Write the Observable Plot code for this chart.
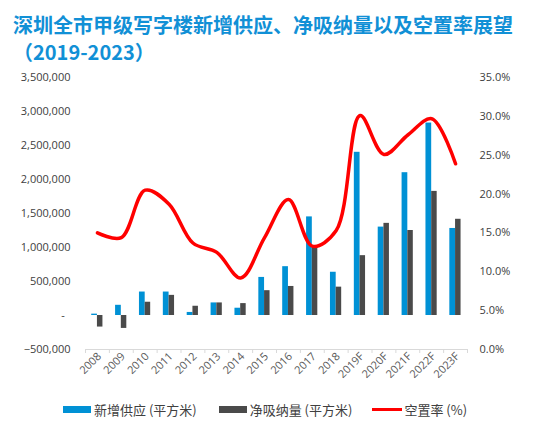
<!DOCTYPE html>
<html>
<head>
<meta charset="utf-8">
<script src="https://cdn.jsdelivr.net/npm/d3@7"></script>
<script src="https://cdn.jsdelivr.net/npm/@observablehq/plot@0.6"></script>
<style>
  body { margin: 0; background: #fff; font-family: "Open Sans", "Noto Sans CJK SC", sans-serif; }
  #title { padding: 11px 0 0 13px; height: 54px; font-family: "Noto Sans CJK SC", sans-serif; font-weight: 700; font-size: 20px; line-height: 27px; color: #1190d6; white-space: nowrap; }
  #legend { display: flex; align-items: center; padding-left: 63px; height: 20px; font-family: "Noto Sans CJK SC", sans-serif; font-size: 13px; color: #404040; }
  #legend .sw { display: inline-block; width: 28px; height: 7px; margin-right: 3px; }
  #legend .ln { display: inline-block; width: 30px; height: 3px; margin-right: 2px; background: #ff0000; }
  #legend .item { display: flex; align-items: center; }
</style>
</head>
<body>
<div id="title">深圳全市甲级写字楼新增供应、净吸纳量以及空置率展望<br>（2019-2023）</div>
<div id="chart"></div>
<div id="legend">
  <span class="item"><span class="sw" style="background:#0091d5"></span>新增供应 (平方米)</span>
  <span class="item" style="margin-left:22px"><span class="sw" style="background:#4a4a4a"></span>净吸纳量 (平方米)</span>
  <span class="item" style="margin-left:20px"><span class="ln"></span>空置率 (%)</span>
</div>
<script>
// 年份
const years = ["2008", "2009", "2010", "2011", "2012", "2013", "2014", "2015", "2016", "2017", "2018", "2019F", "2020F", "2021F", "2022F", "2023F"];
// 新增供应 (平方米)
const supply = [20000, 150000, 345000, 345000, 45000, 185000, 107000, 560000, 718000, 1450000, 636000, 2400000, 1300000, 2100000, 2830000, 1280000];
// 净吸纳量 (平方米)
const absorption = [-170000, -190000, 195000, 296000, 136000, 185000, 175000, 365000, 427000, 1000000, 417000, 880000, 1355000, 1250000, 1825000, 1415000];
// 空置率 (%)
const vacancy = [15.0, 14.4, 20.5, 18.7, 13.7, 12.5, 9.2, 14.4, 19.3, 13.3, 15.3, 30.1, 25.1, 27.6, 29.7, 23.9];

const leftTicks = d3.range(-500000, 3500001, 500000);
const pctTicks = d3.range(0, 36, 5);

// 右轴 0%~35% 对应左轴 -500,000~3,500,000
const toLeft = p => -500000 + p * 4000000 / 35;
const toPct = v => (v + 500000) * 35 / 4000000;

const data = years.map((y, i) => ({
  i, year: y,
  supply: supply[i],
  absorption: absorption[i],
  vacancyLeft: toLeft(vacancy[i])
}));

const fmt = d3.format(",");

const chart = Plot.plot({
  width: 540,
  height: 334,
  marginTop: 12,
  marginBottom: 50,
  marginLeft: 85,
  marginRight: 73,
  style: { fontFamily: "Open Sans, sans-serif", fontSize: "11px", color: "#404040" },
  x: { domain: [0, years.length] },
  y: { domain: [-500000, 3500000] },
  marks: [
    Plot.ruleY([-500000], { stroke: "#d9d9d9" }),
    Plot.axisX({ ticks: d3.range(years.length + 1), tickSize: 4, stroke: "#d9d9d9", tickFormat: () => "", label: null }),
    Plot.axisX({
      ticks: years.map((_, i) => i + 0.5),
      tickSize: 0,
      tickPadding: 5,
      tickRotate: -45,
      dx: 2,
      fill: "#595959",
      tickFormat: d => years[Math.floor(d)],
      label: null
    }),
    Plot.axisY({
      ticks: leftTicks,
      tickSize: 0,
      tickPadding: 15,
      fill: "#404040",
      tickFormat: d => d === 0 ? "-\u00a0\u00a0" : fmt(d),
      label: null
    }),
    Plot.axisY({
      anchor: "right",
      ticks: pctTicks.map(toLeft),
      tickSize: 0,
      tickPadding: 12,
      fill: "#404040",
      tickFormat: d => toPct(d).toFixed(1) + "%",
      label: null
    }),
    Plot.rectY(data, { x1: d => d.i + 0.26, x2: d => d.i + 0.5, y1: 0, y2: "supply", fill: "#0091d5" }),
    Plot.rectY(data, { x1: d => d.i + 0.5, x2: d => d.i + 0.73, y1: 0, y2: "absorption", fill: "#4a4a4a" }),
    Plot.line(data, { x: d => d.i + 0.5, y: "vacancyLeft", curve: "catmull-rom", stroke: "#ff0000", strokeWidth: 3.5 })
  ]
});

document.getElementById("chart").append(chart);
</script>
</body>
</html>
